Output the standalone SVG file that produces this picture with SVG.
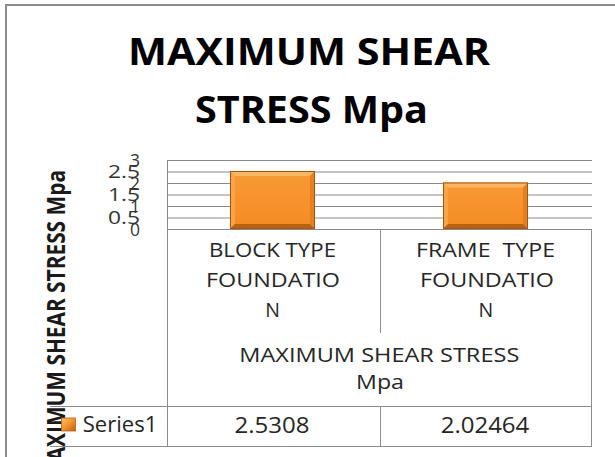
<svg xmlns="http://www.w3.org/2000/svg" width="615" height="457" viewBox="0 0 615 457">
  <style>
    .frame { fill: none; stroke: #8c8c8c; stroke-width: 2; }
    .grid { stroke: #8a8a8a; stroke-width: 1; fill: none; }
    .cell { stroke: #8c8c8c; stroke-width: 1; fill: none; }
    .title { font-family: "Open Sans", "DejaVu Sans", sans-serif; font-weight: bold; font-size: 38px; fill: #000; }
    .axis-title { font-family: "Open Sans", "DejaVu Sans", sans-serif; font-weight: bold; font-size: 25px; fill: #1a1a1a; }
    .tick { font-family: "Open Sans", "DejaVu Sans", sans-serif; font-size: 18px; fill: #333; }
    .cat { font-family: "Open Sans", "DejaVu Sans", sans-serif; font-size: 19.5px; fill: #262626; }
    .val { font-family: "Open Sans", "DejaVu Sans", sans-serif; font-size: 22px; fill: #262626; }
    .bev-top { fill: #fbb663; }
    .bev-left { fill: #f9a449; }
    .bev-right { fill: #e5801f; }
    .bev-bottom { fill: #b8620f; }
    .bar-edge { fill: none; stroke: #a5560c; stroke-width: 1; }
  </style>
  <defs>
    <linearGradient id="face" x1="0" y1="0" x2="0" y2="1">
      <stop offset="0" stop-color="#f99a35"/>
      <stop offset="1" stop-color="#f48b24"/>
    </linearGradient>
    <linearGradient id="key" x1="0" y1="0" x2="1" y2="1">
      <stop offset="0" stop-color="#fcc16e"/>
      <stop offset="0.5" stop-color="#f5922c"/>
      <stop offset="1" stop-color="#b8620f"/>
    </linearGradient>
  </defs>

  <rect width="615" height="457" fill="#fff"/>

  <!-- chart area border (runs off the right and bottom edges) -->
  <rect id="chart-frame" class="frame" x="6" y="5" width="620" height="470"/>

  <!-- chart title -->
  <g id="title">
    <text class="title" x="309" y="65" text-anchor="middle" textLength="362" lengthAdjust="spacingAndGlyphs">MAXIMUM SHEAR</text>
    <text class="title" x="311.5" y="122.5" text-anchor="middle" textLength="233" lengthAdjust="spacingAndGlyphs">STRESS Mpa</text>
  </g>

  <!-- vertical axis title -->
  <g id="axis-title" transform="translate(65,481) rotate(-90)">
    <text class="axis-title" x="0" y="0" textLength="311" lengthAdjust="spacingAndGlyphs">MAXIMUM SHEAR STRESS Mpa</text>
  </g>

  <!-- plot area gridlines -->
  <g id="gridlines" class="grid">
    <line x1="167" y1="160.5" x2="592" y2="160.5"/>
    <line x1="167" y1="172" x2="592" y2="172"/>
    <line x1="167" y1="183.5" x2="592" y2="183.5"/>
    <line x1="167" y1="195" x2="592" y2="195"/>
    <line x1="167" y1="206.5" x2="592" y2="206.5"/>
    <line x1="167" y1="218" x2="592" y2="218"/>
    <line x1="167" y1="229.5" x2="592" y2="229.5"/>
    <line x1="167.5" y1="160" x2="167.5" y2="229.5"/>
  </g>

  <!-- value axis labels -->
  <g id="value-axis">
    <text class="tick" x="140" y="166.5" text-anchor="end" textLength="10" lengthAdjust="spacingAndGlyphs">3</text>
    <text class="tick" x="140" y="178" text-anchor="end" textLength="32" lengthAdjust="spacingAndGlyphs">2.5</text>
    <text class="tick" x="140" y="189.5" text-anchor="end" textLength="10" lengthAdjust="spacingAndGlyphs">2</text>
    <text class="tick" x="140" y="201" text-anchor="end" textLength="32" lengthAdjust="spacingAndGlyphs">1.5</text>
    <text class="tick" x="140" y="212.5" text-anchor="end" textLength="10" lengthAdjust="spacingAndGlyphs">1</text>
    <text class="tick" x="140" y="224" text-anchor="end" textLength="32" lengthAdjust="spacingAndGlyphs">0.5</text>
    <text class="tick" x="140" y="235.5" text-anchor="end" textLength="10" lengthAdjust="spacingAndGlyphs">0</text>
  </g>

  <!-- bevelled column for BLOCK TYPE FOUNDATION: 2.5308 -->
  <g id="bar-block">
    <rect x="230" y="171" width="85" height="58" fill="url(#face)"/>
    <polygon class="bev-top" points="230,171 315,171 310,176 235,176"/>
    <polygon class="bev-left" points="230,171 235,176 235,224 230,229"/>
    <polygon class="bev-right" points="315,171 315,229 310,224 310,176"/>
    <polygon class="bev-bottom" points="230,229 235,224 310,224 315,229"/>
    <rect class="bar-edge" x="230.5" y="171.5" width="84" height="57"/>
  </g>

  <!-- bevelled column for FRAME TYPE FOUNDATION: 2.02464 -->
  <g id="bar-frame">
    <rect x="443" y="182.5" width="85" height="46.5" fill="url(#face)"/>
    <polygon class="bev-top" points="443,182.5 528,182.5 523,187.5 448,187.5"/>
    <polygon class="bev-left" points="443,182.5 448,187.5 448,224 443,229"/>
    <polygon class="bev-right" points="528,182.5 528,229 523,224 523,187.5"/>
    <polygon class="bev-bottom" points="443,229 448,224 523,224 528,229"/>
    <rect class="bar-edge" x="443.5" y="183" width="84" height="45.5"/>
  </g>

  <!-- data table -->
  <g id="data-table">
    <g class="cell">
      <line x1="167.5" y1="229" x2="167.5" y2="446.5"/>
      <line x1="591.5" y1="229" x2="591.5" y2="446.5"/>
      <line x1="380.5" y1="229" x2="380.5" y2="333"/>
      <line x1="380.5" y1="406" x2="380.5" y2="446.5"/>
      <line x1="50" y1="406.5" x2="592" y2="406.5"/>
      <line x1="50" y1="446.5" x2="592" y2="446.5"/>
    </g>

    <g id="cat-block">
      <text class="cat" x="272.5" y="257.3" text-anchor="middle" textLength="127" lengthAdjust="spacingAndGlyphs">BLOCK TYPE</text>
      <text class="cat" x="273" y="287.3" text-anchor="middle" textLength="134" lengthAdjust="spacingAndGlyphs">FOUNDATIO</text>
      <text class="cat" x="272.7" y="317.3" text-anchor="middle">N</text>
    </g>
    <g id="cat-frame">
      <text class="cat" x="485.5" y="257.3" text-anchor="middle" textLength="139" lengthAdjust="spacingAndGlyphs">FRAME&#160; TYPE</text>
      <text class="cat" x="487" y="287.3" text-anchor="middle" textLength="134" lengthAdjust="spacingAndGlyphs">FOUNDATIO</text>
      <text class="cat" x="485.8" y="317.3" text-anchor="middle">N</text>
    </g>
    <g id="series-header">
      <text class="cat" x="379.3" y="361.7" text-anchor="middle" textLength="280" lengthAdjust="spacingAndGlyphs">MAXIMUM SHEAR STRESS</text>
      <text class="cat" x="380" y="389" text-anchor="middle" textLength="48" lengthAdjust="spacingAndGlyphs">Mpa</text>
    </g>

    <g id="series-row">
      <rect x="61.5" y="418" width="14" height="13" fill="url(#key)"/>
      <rect x="61.5" y="418" width="14" height="13" fill="none" stroke="#b8620f" stroke-width="0.8"/>
      <text class="val" x="82.7" y="432.3" textLength="74.6" lengthAdjust="spacingAndGlyphs">Series1</text>
      <text class="val" x="272" y="433.3" text-anchor="middle" textLength="75" lengthAdjust="spacingAndGlyphs">2.5308</text>
      <text class="val" x="485" y="433.3" text-anchor="middle" textLength="88.6" lengthAdjust="spacingAndGlyphs">2.02464</text>
    </g>
  </g>
</svg>
